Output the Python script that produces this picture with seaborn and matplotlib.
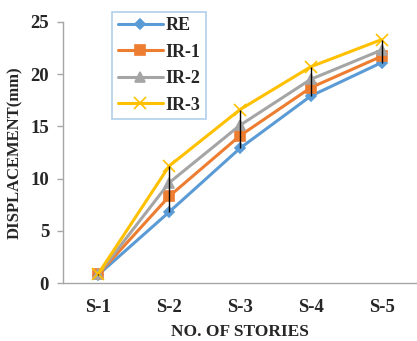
import pandas as pd
import numpy as np
import matplotlib
matplotlib.use("Agg")
import matplotlib.pyplot as plt
import seaborn as sns

stories = ["S-1", "S-2", "S-3", "S-4", "S-5"]
re_disp = [0.8, 6.8, 12.9, 17.9, 21.1]
ir1_disp = [0.85, 8.3, 14.1, 18.7, 21.7]
ir2_disp = [0.85, 9.6, 15.1, 19.5, 22.3]
ir3_disp = [0.9, 11.2, 16.6, 20.7, 23.3]
series_names = ["RE", "IR-1", "IR-2", "IR-3"]
y_ticks = [0, 5, 10, 15, 20, 25]

sns.set_style("white")
plt.rcParams["font.family"] = ["Liberation Serif", "DejaVu Serif"]
plt.rcParams["font.weight"] = "bold"

values = [re_disp, ir1_disp, ir2_disp, ir3_disp]
colors = ["#5B9BD5", "#ED7D31", "#A5A5A5", "#FFC000"]
markers = ["D", "s", "^", "x"]
msizes = [5, 7, 7, 9]

fig = plt.figure(figsize=(4.17, 3.41), dpi=100)
ax = fig.add_axes([0.151, 0.170, 0.849, 0.766])

for name, vals, c, m, ms in zip(series_names, values, colors, markers, msizes):
    df = pd.DataFrame({"story": stories, "disp": vals})
    sns.lineplot(data=df, x="story", y="disp", ax=ax, color=c, marker=m,
                 markersize=ms, markeredgecolor=c, markeredgewidth=1.2,
                 linewidth=2.2, label=name, sort=False)

arr = np.array(values)
ax.vlines(np.arange(len(stories)), arr.min(axis=0), arr.max(axis=0),
          color="black", linewidth=1.0, zorder=5)

ax.set_xlim(-0.5, len(stories) - 0.5)
ax.set_ylim(0, 25)
ax.set_yticks(y_ticks)
ax.set_xlabel("NO. OF STORIES", fontsize=12.5, fontweight="bold", labelpad=6)
ax.set_ylabel("DISPLACEMENT(mm)", fontsize=12, fontweight="bold", labelpad=5)
ax.tick_params(axis="both", labelsize=13.5)
ax.tick_params(axis="y", left=True, length=4, color="#A6A6A6", width=1, pad=6)
ax.tick_params(axis="x", bottom=False, pad=8)
for lab in ax.get_xticklabels() + ax.get_yticklabels():
    lab.set_fontweight("bold")

for side in ["top", "right"]:
    ax.spines[side].set_visible(False)
for side in ["left", "bottom"]:
    ax.spines[side].set_color("#A6A6A6")
    ax.spines[side].set_linewidth(1.0)

handles, labels = ax.get_legend_handles_labels()
leg = ax.legend(handles, labels, loc="upper left", bbox_to_anchor=(0.269, 0.965),
                bbox_transform=fig.transFigure, borderaxespad=0, fontsize=13,
                handlelength=2.5, handletextpad=0.15, labelspacing=0.52,
                frameon=True, fancybox=False, borderpad=0.3)
leg.get_frame().set_edgecolor("#9DC3E6")
leg.get_frame().set_linewidth(1.2)
for t in leg.get_texts():
    t.set_fontweight("bold")

fig.savefig("out.png", dpi=100)
